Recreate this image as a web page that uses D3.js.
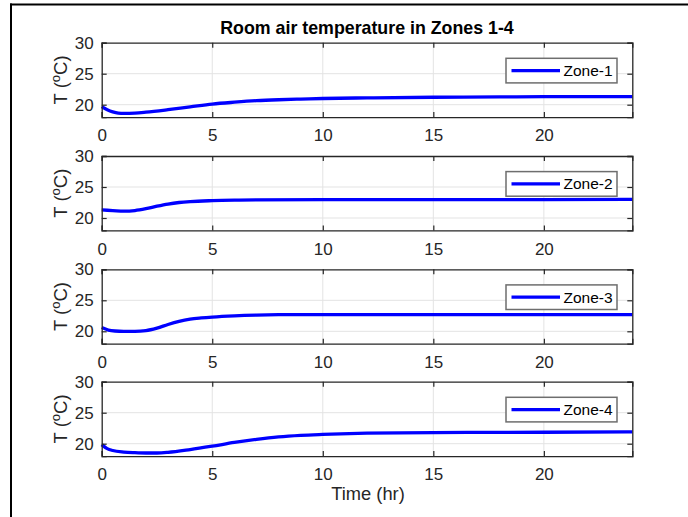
<!DOCTYPE html>
<html><head><meta charset="utf-8">
<script src="https://cdn.jsdelivr.net/npm/d3@7"></script>
<style>
body{margin:0;background:#fff;}
svg{display:block;font-family:"Liberation Sans",Arial,sans-serif;}
</style></head>
<body><svg id="c" width="688" height="517"></svg>
<script>
const title = "Room air temperature in Zones 1-4";
const zoneNames = ["Zone-1","Zone-2","Zone-3","Zone-4"];
const xTicks = [0,5,10,15,20];
const yTicks = [20,25,30];
const xDomain = [0,24];
const yDomain = [18,30];
const t1 = [0,0.25,0.5,0.75,1,1.5,2,3,4,5,6,7,8,9,10,12,15,18,20,24];
const z1 = [19.7,19.2,18.85,18.65,18.6,18.65,18.8,19.2,19.65,20.1,20.4,20.65,20.8,20.9,21.0,21.1,21.2,21.25,21.3,21.3];
const t2 = [0,0.5,1,1.5,2,2.5,3,3.5,4,5,6,7,10,15,20,24];
const z2 = [21.3,21.2,21.1,21.2,21.5,21.9,22.25,22.5,22.65,22.8,22.88,22.92,22.95,22.95,22.97,23.0];
const t3 = [0,0.3,0.6,1,1.5,2,2.5,3,3.5,4,4.5,5,6,7,8,10,15,24];
const z3 = [20.6,20.2,20.05,20.0,20.0,20.1,20.5,21.1,21.6,21.95,22.15,22.3,22.5,22.62,22.68,22.7,22.7,22.7];
const t4 = [0,0.25,0.5,1,1.5,2,2.5,3,4,5,6,7,8,9,10,12,15,20,24];
const z4 = [19.85,19.2,18.9,18.65,18.55,18.5,18.5,18.6,19.05,19.6,20.2,20.7,21.1,21.35,21.5,21.7,21.8,21.85,21.9];
const series = [[t1,z1],[t2,z2],[t3,z3],[t4,z4]];

const svg = d3.select("#c");
const xL = 101.7, xR = 632.3, ph = 74.4;
const tops = [42.7,156,269.3,381.7];
const axCol = "#262626";
const tickFs = 17;

// figure border (top & left)
svg.append("rect").attr("x",10).attr("y",3.5).attr("width",678).attr("height",2).attr("fill","#000");
svg.append("rect").attr("x",10).attr("y",3.5).attr("width",2).attr("height",514).attr("fill","#000");

const x = d3.scaleLinear().domain(xDomain).range([xL,xR]);

series.forEach((s,i)=>{
  const top = tops[i], bot = top+ph;
  const y = d3.scaleLinear().domain(yDomain).range([bot,top]);
  const g = svg.append("g");
  // grid
  g.selectAll(".gx").data(xTicks.filter(d=>d>0)).enter().append("line")
    .attr("x1",d=>x(d)).attr("x2",d=>x(d)).attr("y1",top).attr("y2",bot)
    .attr("stroke","#e3e3e3").attr("stroke-width",1);
  g.selectAll(".gy").data(yTicks.filter(d=>d<30)).enter().append("line")
    .attr("x1",xL).attr("x2",xR).attr("y1",d=>y(d)).attr("y2",d=>y(d))
    .attr("stroke","#e3e3e3").attr("stroke-width",1);
  // line
  const line = d3.line().x(d=>x(d[0])).y(d=>y(d[1])).curve(d3.curveMonotoneX);
  const pts = s[0].map((t,k)=>[t,s[1][k]]);
  g.append("path").datum(pts).attr("d",line).attr("fill","none")
    .attr("stroke","#0000ff").attr("stroke-width",3.3);
  // axes (ticks inside)
  const ax = d3.axisBottom(x).tickValues(xTicks).tickSize(-5).tickPadding(12.3).tickFormat(d3.format("d"));
  const axT = d3.axisTop(x).tickValues(xTicks).tickSize(-5).tickFormat("");
  const ay = d3.axisLeft(y).tickValues(yTicks).tickSize(-5).tickPadding(8).tickFormat(d3.format("d"));
  const ayR = d3.axisRight(y).tickValues(yTicks).tickSize(-5).tickFormat("");
  const gb = g.append("g").attr("transform",`translate(0,${bot})`).call(ax);
  const gt = g.append("g").attr("transform",`translate(0,${top})`).call(axT);
  const gl = g.append("g").attr("transform",`translate(${xL},0)`).call(ay);
  const gr = g.append("g").attr("transform",`translate(${xR},0)`).call(ayR);
  [gb,gt,gl,gr].forEach(a=>{
    a.select(".domain").attr("stroke",axCol).attr("stroke-width",1.3);
    a.selectAll(".tick line").attr("stroke",axCol).attr("stroke-width",1.2);
    a.selectAll("text").attr("fill",axCol).attr("font-size",tickFs).attr("font-family","Liberation Sans, Arial, sans-serif");
  });
  // y label
  const yl = g.append("text").attr("transform",`translate(67,${(top+bot)/2}) rotate(-90)`)
    .attr("text-anchor","middle").attr("font-size",18.5).attr("fill",axCol);
  yl.append("tspan").text("T (");
  yl.append("tspan").attr("font-size",13).attr("dy",-7).text("o");
  yl.append("tspan").attr("dy",7).text("C)");
  // legend
  const lx = 506, ly = top+15.6, lw = 111, lh = 24.6;
  g.append("rect").attr("x",lx).attr("y",ly).attr("width",lw).attr("height",lh)
    .attr("fill","#fff").attr("stroke","#6e6e6e").attr("stroke-width",1.5);
  g.append("line").attr("x1",lx+5.5).attr("x2",lx+54).attr("y1",ly+lh/2).attr("y2",ly+lh/2)
    .attr("stroke","#0000ff").attr("stroke-width",3.3);
  g.append("text").attr("x",lx+57.5).attr("y",ly+lh/2+5.5).attr("font-size",15.5).attr("fill","#000")
    .text(zoneNames[i]);
});

svg.append("text").attr("x",367).attr("y",34).attr("text-anchor","middle")
  .attr("font-size",17.8).attr("font-weight","bold").attr("fill","#000").text(title);
svg.append("text").attr("x",368).attr("y",500).attr("text-anchor","middle")
  .attr("font-size",18.3).attr("fill",axCol).text("Time (hr)");
</script></body></html>
